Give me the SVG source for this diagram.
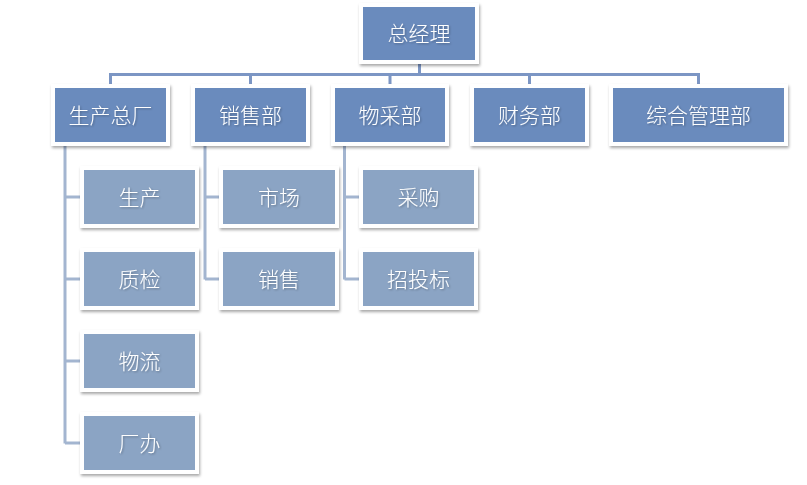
<svg xmlns="http://www.w3.org/2000/svg" width="807" height="485" viewBox="0 0 807 485">
<defs>
<filter id="sh" x="-10%" y="-10%" width="125%" height="135%">
<feGaussianBlur in="SourceAlpha" stdDeviation="1.6"/>
<feOffset dx="1" dy="2" result="b"/>
<feComponentTransfer><feFuncA type="linear" slope="0.35"/></feComponentTransfer>
<feMerge><feMergeNode/><feMergeNode in="SourceGraphic"/></feMerge>
</filter>
<filter id="ts" x="-10%" y="-20%" width="130%" height="150%">
<feGaussianBlur in="SourceAlpha" stdDeviation="0.8"/>
<feOffset dx="0.6" dy="1"/>
<feComponentTransfer><feFuncA type="linear" slope="0.3"/></feComponentTransfer>
<feMerge><feMergeNode/><feMergeNode in="SourceGraphic"/></feMerge>
</filter>
</defs>
<style>
.frame{fill:#ffffff;filter:url(#sh)}
.d{fill:#6a8bbd}
.c{fill:#8ba4c4}
.t{fill:#ffffff;font-family:"Microsoft YaHei","Noto Sans CJK SC",sans-serif;font-size:21px;font-weight:300;text-anchor:middle;dominant-baseline:central;filter:url(#ts)}
.l1{stroke:#7c96c4;stroke-width:3;fill:none}
.l2{stroke:#a3b5d0;stroke-width:3;fill:none}
</style>
<rect width="807" height="485" fill="#ffffff"/>
<g id="connectors">
<path class="l1" d="M419.5 60V74.5M110.5 74.5H698.5M110.5 73V88M250.5 73V88M390 73V88M529.5 73V88M698.5 73V88"/>
<path class="l2" d="M65 142V443.5M65 197H84M65 279H84M65 361H84M65 443H84"/>
<path class="l2" d="M205 142V279.5M205 197H223M205 279H223"/>
<path class="l2" d="M344.5 142V279.5M344.5 197H363M344.5 279H363"/>
</g>
<g id="n-zjl"><rect class="frame" x="359" y="3" width="120" height="61"/><rect class="d" x="363" y="7" width="112" height="53"/><text class="t" x="419" y="32">总经理</text></g>
<g id="n-scz"><rect class="frame" x="51" y="84" width="119" height="62"/><rect class="d" x="55" y="88" width="111" height="54"/><text class="t" x="110.5" y="114">生产总厂</text></g>
<g id="n-xsb"><rect class="frame" x="191" y="84" width="119" height="62"/><rect class="d" x="195" y="88" width="111" height="54"/><text class="t" x="250.5" y="114">销售部</text></g>
<g id="n-wcb"><rect class="frame" x="331" y="84" width="118" height="62"/><rect class="d" x="335" y="88" width="110" height="54"/><text class="t" x="390" y="114">物采部</text></g>
<g id="n-cwb"><rect class="frame" x="470" y="84" width="119" height="62"/><rect class="d" x="474" y="88" width="111" height="54"/><text class="t" x="529.5" y="114">财务部</text></g>
<g id="n-zhglb"><rect class="frame" x="609" y="84" width="179" height="62"/><rect class="d" x="613" y="88" width="171" height="54"/><text class="t" x="698.5" y="114">综合管理部</text></g>
<g id="n-sc"><rect class="frame" x="80" y="166" width="119" height="62"/><rect class="c" x="84" y="170" width="111" height="54"/><text class="t" x="139.5" y="196">生产</text></g>
<g id="n-zj"><rect class="frame" x="80" y="248" width="119" height="62"/><rect class="c" x="84" y="252" width="111" height="54"/><text class="t" x="139.5" y="278">质检</text></g>
<g id="n-wl"><rect class="frame" x="80" y="330" width="119" height="62"/><rect class="c" x="84" y="334" width="111" height="54"/><text class="t" x="139.5" y="360">物流</text></g>
<g id="n-cb"><rect class="frame" x="80" y="412" width="119" height="62"/><rect class="c" x="84" y="416" width="111" height="54"/><text class="t" x="139.5" y="442">厂办</text></g>
<g id="n-shc"><rect class="frame" x="219" y="166" width="120" height="62"/><rect class="c" x="223" y="170" width="112" height="54"/><text class="t" x="279" y="196">市场</text></g>
<g id="n-xs"><rect class="frame" x="219" y="248" width="120" height="62"/><rect class="c" x="223" y="252" width="112" height="54"/><text class="t" x="279" y="278">销售</text></g>
<g id="n-cg"><rect class="frame" x="359" y="166" width="119" height="62"/><rect class="c" x="363" y="170" width="111" height="54"/><text class="t" x="418.5" y="196">采购</text></g>
<g id="n-ztb"><rect class="frame" x="359" y="248" width="119" height="62"/><rect class="c" x="363" y="252" width="111" height="54"/><text class="t" x="418.5" y="278">招投标</text></g>
</svg>
